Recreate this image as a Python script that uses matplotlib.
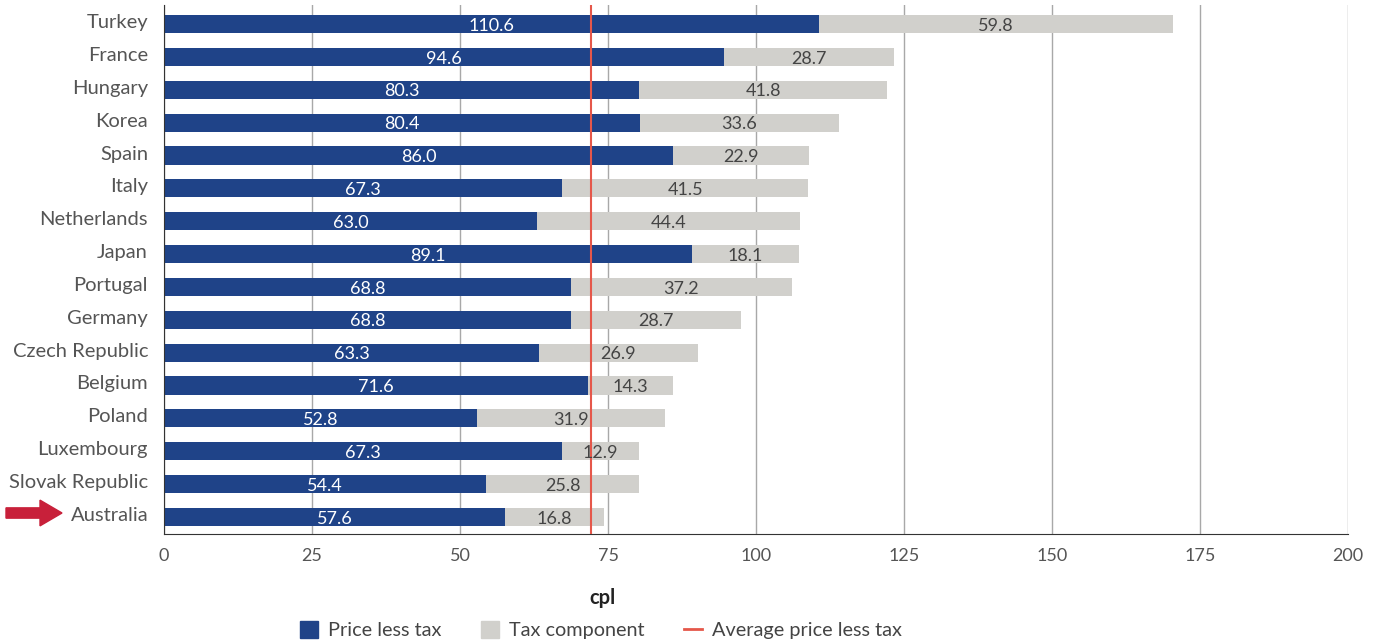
import numpy as np
import matplotlib.pyplot as plt
import matplotlib
from matplotlib.patches import Patch, FancyArrow
from matplotlib.lines import Line2D
from matplotlib.transforms import ScaledTranslation

matplotlib.rc('font', family=['Lato', 'DejaVu Sans'], size=13)

countries = ["Turkey", "France", "Hungary", "Korea", "Spain", "Italy",
             "Netherlands", "Japan", "Portugal", "Germany", "Czech Republic",
             "Belgium", "Poland", "Luxembourg", "Slovak Republic", "Australia"]
price_less_tax = [110.6, 94.6, 80.3, 80.4, 86.0, 67.3, 63.0, 89.1,
                  68.8, 68.8, 63.3, 71.6, 52.8, 67.3, 54.4, 57.6]
tax_component = [59.8, 28.7, 41.8, 33.6, 22.9, 41.5, 44.4, 18.1,
                 37.2, 28.7, 26.9, 14.3, 31.9, 12.9, 25.8, 16.8]
avg_price_less_tax = 72.2
xticks = [0, 25, 50, 75, 100, 125, 150, 175, 200]

blue = "#1f4388"
grey = "#d1d0cc"
red = "#e5574a"

fig = plt.figure(figsize=(13.75, 6.43), dpi=100)
ax = fig.add_axes([0.1193, 0.1695, 0.8611, 0.8227])

# first country at the top
y = np.arange(len(countries))[::-1]
h = 0.55

ax.barh(y, price_less_tax, height=h, color=blue, zorder=2)
ax.barh(y, tax_component, left=price_less_tax, height=h, color=grey, zorder=2)

for yi, p, t in zip(y, price_less_tax, tax_component):
    ax.text(p / 2, yi - 0.05, f"{p:.1f}", ha="center", va="center",
            color="white", fontsize=13, zorder=4)
    ax.text(p + t / 2, yi - 0.05, f"{t:.1f}", ha="center", va="center",
            color="#444444", fontsize=13, zorder=4)

ax.axvline(avg_price_less_tax, color=red, lw=1.5, zorder=3)

ax.set_xlim(0, 200)
ax.set_ylim(-0.52, 15.58)
ax.set_xticks(xticks)
ax.set_xticklabels([str(v) for v in xticks])
ax.set_yticks(y)
ax.set_yticklabels(countries, fontsize=14.5)
ax.tick_params(axis="both", length=0, colors="#555555")
ax.tick_params(axis="x", pad=10, labelsize=13)
ax.tick_params(axis="y", pad=11.5)

# country names sit a little above the bar centre
shift = ScaledTranslation(0, 3 / 100, fig.dpi_scale_trans)
for lab in ax.get_yticklabels():
    lab.set_transform(lab.get_transform() + shift)

ax.xaxis.grid(True, color="#a8a8a8", lw=1, zorder=0)
ax.set_axisbelow(True)
for s in ["top", "right"]:
    ax.spines[s].set_visible(False)
ax.spines["left"].set_color("#333333")
ax.spines["bottom"].set_color("#333333")

fig.text(602 / 1375, 1 - 598 / 643, "cpl", ha="center", va="center",
         fontsize=14.5, fontweight="bold", color="#222222")

handles = [Patch(color=blue, label="Price less tax"),
           Patch(color=grey, label="Tax component"),
           Line2D([0], [0], color=red, lw=2, label="Average price less tax")]
fig.legend(handles=handles, loc="center", bbox_to_anchor=(601 / 1375, 1 - 630 / 643),
           ncol=3, frameon=False, fontsize=14.3, handlelength=0.9, handleheight=1.0,
           handletextpad=0.5, columnspacing=2.0, labelcolor="#444444")

# arrow marking Australia
fig.patches.append(FancyArrow(
    6 / 1375, 1 - 513 / 643, 56 / 1375, 0, width=0.016, head_width=0.04,
    head_length=0.016, length_includes_head=True, color="#c8203a",
    transform=fig.transFigure, figure=fig))

plt.savefig("out.png", dpi=100)
